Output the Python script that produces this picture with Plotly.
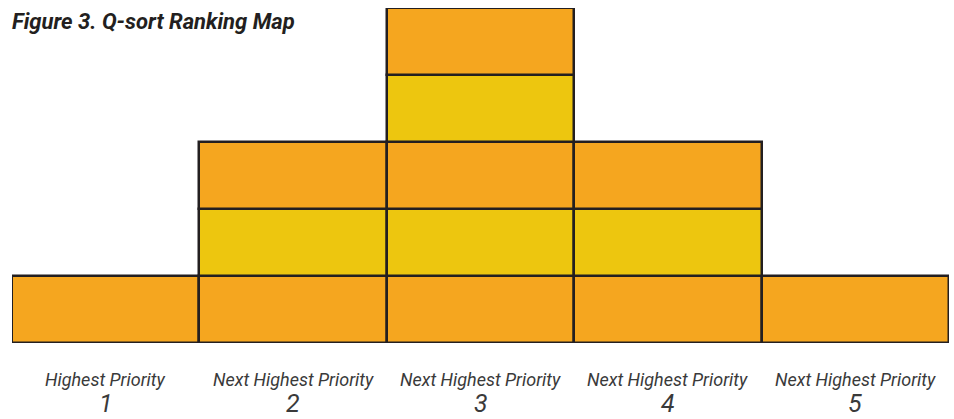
import plotly.graph_objects as go

columns = [1, 2, 3, 4, 5]
cell_counts = [1, 3, 5, 3, 1]
label_text = ["Highest Priority", "Next Highest Priority", "Next Highest Priority",
              "Next Highest Priority", "Next Highest Priority"]
label_num = ["1", "2", "3", "4", "5"]
row_colors = ["#F5A61F", "#EDC60F"]

FONT = "Liberation Sans Narrow, Arial Narrow, Roboto, sans-serif"

W, H = 954, 419
ML, MR, MT, MB = 12, 5, 8, 76
PH = H - MT - MB

fig = go.Figure()
max_rows = max(cell_counts)
for r in range(max_rows):
    xs = [c for c, n in zip(columns, cell_counts) if n > r]
    fig.add_trace(go.Bar(
        x=xs, y=[1] * len(xs), base=[r] * len(xs), width=1,
        marker=dict(color=row_colors[r % 2], line=dict(color="#231F20", width=2.5)),
        cliponaxis=False, showlegend=False, hoverinfo="skip",
    ))

def py(fig_y):
    return (H - MB - fig_y) / PH

for c, t, n in zip(columns, label_text, label_num):
    fig.add_annotation(x=c, y=py(379), xref="x", yref="paper", text="<i>%s</i>" % t,
                       showarrow=False, font=dict(family=FONT, size=18, color="#3a3a3a"),
                       yanchor="middle")
    fig.add_annotation(x=c, y=py(403), xref="x", yref="paper", text="<i>%s</i>" % n,
                       showarrow=False, font=dict(family=FONT, size=25, color="#3a3a3a"),
                       yanchor="middle")

fig.add_annotation(x=(10 - ML) / (W - ML - MR), y=py(22), xref="paper", yref="paper",
                   text="<b><i>Figure 3. Q-sort Ranking Map</i></b>",
                   showarrow=False, font=dict(family=FONT, size=22, color="#231F20"),
                   xanchor="left", yanchor="middle")

fig.update_layout(
    width=W, height=H,
    margin=dict(l=ML, r=MR, t=MT, b=MB),
    paper_bgcolor="white", plot_bgcolor="white",
    barmode="overlay", bargap=0,
    xaxis=dict(range=[0.5, 5.5], visible=False, fixedrange=True),
    yaxis=dict(range=[0, 5], visible=False, fixedrange=True),
)

fig.write_html("out.html", config={"displayModeBar": False},
               post_script="document.body.style.margin='0';document.body.style.overflow='hidden';")
